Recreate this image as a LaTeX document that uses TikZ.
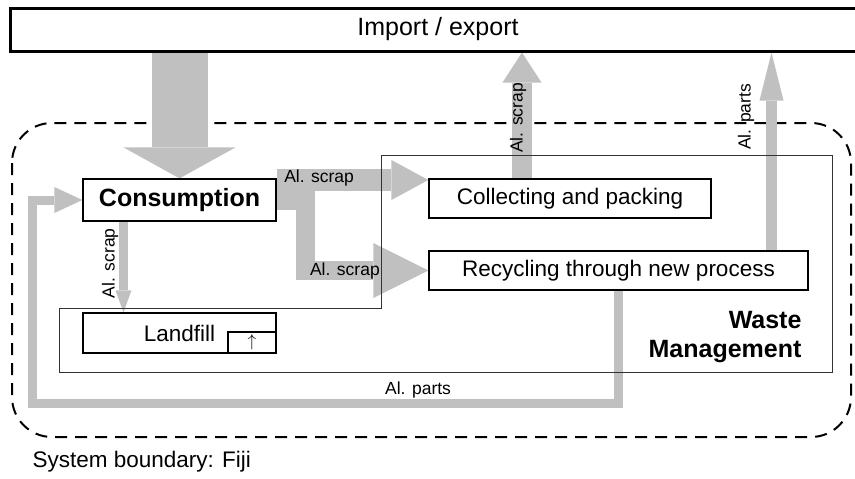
\documentclass[tikz,border=0pt]{standalone}
\usepackage{fontspec}
\setmainfont{Liberation Sans}
\usepackage{tikz}
\usetikzlibrary{arrows.meta,positioning,calc,backgrounds}
\definecolor{flowgray}{RGB}{192,192,192}
\newcommand{\txt}{\fontsize{22.5}{27}\selectfont}
\newcommand{\bigtxt}{\fontsize{25}{29}\selectfont}
\newcommand{\smalltxt}{\fontsize{17.5}{20}\selectfont}

\begin{document}
\begin{tikzpicture}[x=1pt,y=-1pt]
\tikzset{blockbox/.style={draw,line width=1.2pt,fill=white,inner sep=0pt}}
\tikzset{flow/.style n args={3}{draw=flowgray,line width=#1,line join=miter,
-{Triangle[length=#2,width=#3,line width=0pt]}}}
\tikzset{flowlabel/.style={font=\smalltxt,inner sep=0pt}}
\useasboundingbox (0,0) rectangle (855,479);
% boxes
\node[blockbox,line width=3pt,minimum width=856pt,minimum height=43pt,font=\bigtxt] (import) at (438,29.5) {Import / export};
\node[blockbox,minimum width=193pt,minimum height=42pt,font=\bigtxt\bfseries] (cons) at (179.5,200) {Consumption};
\node[blockbox,minimum width=282pt,minimum height=39pt,font=\txt] (collect) at (570,198.5) {Collecting and packing};
\node[blockbox,minimum width=379pt,minimum height=39pt,font=\txt] (recyc) at (618.5,270.5) {Recycling through new process};
\node[blockbox,minimum width=193pt,minimum height=40pt,font=\txt] (landfill) at (179.5,333) {Landfill};
\node[blockbox,minimum width=48pt,minimum height=21pt,font=\fontsize{19}{20}\selectfont] (lfbox) at (252,342.5) {$\uparrow$};
\node[font=\bigtxt\bfseries,align=right,anchor=east] (waste) at (805,337) {Waste\\Management};
\node[font=\txt,anchor=west] (sysb) at (29,462) {System boundary: Fiji};
\begin{scope}[on background layer]
% system boundary
\draw[line width=2pt,dash pattern=on 12pt off 8pt,rounded corners=40pt] (12,123) rectangle (851,437);
% flows
\draw[flow={56pt}{31pt}{112pt}] (cons.north |- import.south) -- (cons.north);
\draw[flow={22pt}{37pt}{40pt}] ([yshift=20pt]cons.east) -- node[flowlabel,pos=0.28,yshift=2pt] {Al. scrap} ([yshift=20pt]cons.east -| collect.west);
\draw[flow={19pt}{55pt}{55pt}] (cons.east) -- ++(29,0) |- node[flowlabel,pos=0.66] {Al. scrap} (recyc.west);
\draw[flow={9pt}{22pt}{16pt}] ([xshift=-56pt]cons.south) -- node[flowlabel,pos=0.46,xshift=-13.5pt,rotate=90] {Al. scrap} ([xshift=-56pt]landfill.north);
\draw[flow={20pt}{30pt}{39pt}] ([xshift=-48pt]collect.north) -- node[flowlabel,pos=0.48,xshift=-4pt,rotate=90] {Al. scrap} ([xshift=-48pt]collect.north |- import.south);
\draw[flow={11pt}{48pt}{24pt}] ([xshift=153pt]recyc.north) -- node[flowlabel,pos=0.675,xshift=-25.5pt,rotate=90] {Al. parts} ([xshift=153pt]recyc.north |- import.south);
\draw[flow={9pt}{28pt}{26pt}] (recyc.south) -- ++(0,113) -| node[flowlabel,pos=0.171,yshift=14pt] {Al. parts} ($(cons.west)+(-50,0)$) -- (cons.west);
% waste management area
\draw[line width=0.9pt,draw=black!80] (381,155) -- (832,155) -- (832,372) -- (59,372) -- (59,308) -- (381,308) -- cycle;
\end{scope}
\end{tikzpicture}
\end{document}
